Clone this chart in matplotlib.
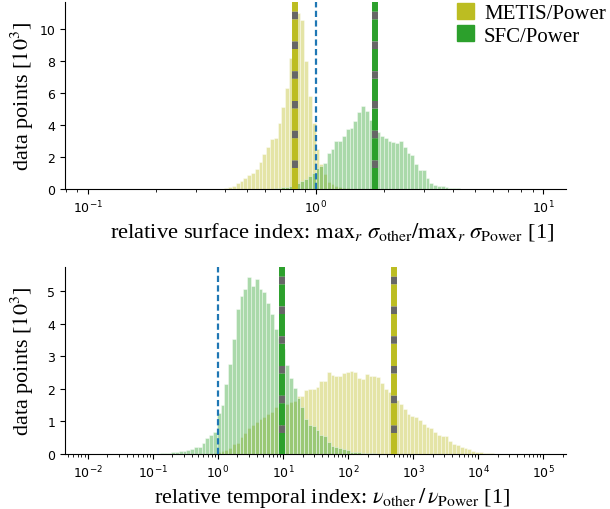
import numpy as np
import matplotlib
matplotlib.use("Agg")
import matplotlib.pyplot as plt
from matplotlib.patches import Patch

# ---------------- data (counts in thousands) ----------------
n_bins = 120
surf_decades = (-1, 1)      # log10 range of the surface-index bins
temp_decades = (-2, 5)      # log10 range of the temporal-index bins

labels = ["METIS/Power", "SFC/Power"]

# relative surface index histograms
surf_metis_first_bin = 35
surf_metis = [0.03, 0.05, 0.10, 0.17, 0.35, 0.50, 0.67, 0.90, 1.00, 1.25,
              1.70, 2.20, 2.60, 3.10, 3.20, 4.15, 5.10, 6.30, 8.20, 10.0,
              11.0, 10.6, 8.00, 5.80, 4.10, 2.50, 1.55, 0.94, 0.46, 0.31,
              0.17, 0.10, 0.08, 0.05, 0.03, 0.02]
surf_sfc_first_bin = 47
surf_sfc = [0.02, 0.03, 0.04, 0.05, 0.10, 0.15, 0.20, 0.28, 0.37, 0.50,
            0.63, 0.83, 1.00, 1.30, 1.46, 1.63, 2.23, 2.50, 3.02, 2.98,
            3.29, 3.75, 3.79, 4.25, 4.83, 5.21, 4.90, 4.31, 3.90, 3.55,
            3.33, 3.19, 3.02, 2.92, 2.88, 2.98, 2.60, 2.23, 2.15, 1.56,
            1.19, 1.19, 0.69, 0.35, 0.25, 0.20, 0.17, 0.10, 0.06, 0.08,
            0.06, 0.03, 0.02]
surf_medians = [0.815, 1.83]

# relative temporal index histograms
temp_metis_first_bin = 33
temp_metis = [0.02, 0.05, 0.08, 0.12, 0.17, 0.31, 0.34, 0.51, 0.63, 0.80,
              0.89, 0.97, 1.06, 1.15, 1.23, 1.30, 1.44, 1.47, 1.51, 1.55,
              1.59, 1.64, 1.77, 1.77, 1.95, 2.00, 2.00, 2.07, 2.25, 2.25,
              2.51, 2.41, 2.39, 2.39, 2.49, 2.53, 2.54, 2.51, 2.33, 2.29,
              2.47, 2.38, 2.38, 2.36, 2.18, 2.00, 1.90, 1.75, 1.67, 1.54,
              1.38, 1.23, 1.16, 1.13, 1.03, 0.92, 0.82, 0.79, 0.69, 0.58,
              0.56, 0.54, 0.41, 0.31, 0.28, 0.20, 0.17, 0.15, 0.09, 0.07,
              0.05, 0.04, 0.03, 0.02, 0.01]
temp_sfc_first_bin = 18
temp_sfc = [0.01, 0.02, 0.02, 0.03, 0.05, 0.06, 0.08, 0.10, 0.13, 0.16,
            0.22, 0.22, 0.34, 0.49, 0.58, 0.68, 1.26, 1.49, 2.15, 2.77,
            3.52, 4.46, 4.85, 5.06, 5.43, 5.16, 5.38, 5.08, 4.97, 4.62,
            4.29, 3.85, 3.55, 3.23, 2.74, 2.33, 2.02, 1.72, 1.44, 1.06,
            0.89, 0.87, 0.74, 0.58, 0.54, 0.38, 0.24, 0.20, 0.17, 0.15,
            0.13, 0.07, 0.07, 0.05, 0.04, 0.03, 0.02, 0.02, 0.01]
temp_medians = [500.0, 9.5]

surf_ylim = 11.7
temp_ylim = 5.74

# ---------------- styling ----------------
OLIVE = "#bcbd22"
GREEN = "#2ca02c"
BLUE = "#1f77b4"
GREY = "#666666"
colors = [OLIVE, GREEN]
SERIF = ["Liberation Serif", "DejaVu Serif"]

plt.rcParams["font.size"] = 9
plt.rcParams["xtick.labelsize"] = 9
plt.rcParams["ytick.labelsize"] = 9

fig = plt.figure(figsize=(6.1, 5.1), dpi=100)
ax1 = fig.add_axes([65 / 610, 1 - 190 / 510, 501 / 610, 187 / 510])
ax2 = fig.add_axes([65 / 610, 1 - 455 / 510, 501 / 610, 187 / 510])


def draw_panel(ax, decades, series, medians, ytop):
    edges = np.logspace(decades[0], decades[1], n_bins + 1)
    for first, heights, color in series:
        h = np.asarray(heights, dtype=float)
        left = edges[first:first + len(h)]
        width = edges[first + 1:first + len(h) + 1] - left
        ax.bar(left, h, width=width, align="edge", color=color, alpha=0.4,
               edgecolor="white", linewidth=0.7, zorder=2)
    for m, color in zip(medians, colors):
        ax.axvline(m, color=GREY, gapcolor=color, lw=4.3,
                   linestyle=(1.46, (1.26, 3.72)), zorder=3)
    ax.axvline(1.0, color=BLUE, lw=1.6, linestyle=(0, (2.8, 1.5)), zorder=3)
    ax.set_xscale("log")
    span = decades[1] - decades[0]
    ax.set_xlim(10 ** (decades[0] - 0.05 * span), 10 ** (decades[1] + 0.05 * span))
    ax.set_ylim(0, ytop)
    ax.spines["top"].set_visible(False)
    ax.spines["right"].set_visible(False)
    ax.set_ylabel(r"data points [$10^3$]", family=SERIF, fontsize=16,
                  math_fontfamily="stix")
    ax.yaxis.set_label_coords(-0.058, 0.5)


draw_panel(ax1, surf_decades,
           [(surf_metis_first_bin, surf_metis, OLIVE),
            (surf_sfc_first_bin, surf_sfc, GREEN)],
           surf_medians, surf_ylim)
ax1.set_yticks([0, 2, 4, 6, 8, 10])
ax1.set_xlabel(r"relative surface index: $\mathrm{max}_r\ \sigma_{\mathrm{other}}/\mathrm{max}_r\ \sigma_{\mathrm{Power}}$ [1]",
               family=SERIF, fontsize=16.2, math_fontfamily="stix")
ax1.xaxis.set_label_coords(0.534, -0.165)

draw_panel(ax2, temp_decades,
           [(temp_metis_first_bin, temp_metis, OLIVE),
            (temp_sfc_first_bin, temp_sfc, GREEN)],
           temp_medians, temp_ylim)
ax2.set_yticks([0, 1, 2, 3, 4, 5])
ax2.set_xlabel(r"relative temporal index: $\nu_{\mathrm{other}}\,/\,\nu_{\mathrm{Power}}$ [1]",
               family=SERIF, fontsize=16, math_fontfamily="stix")
ax2.xaxis.set_label_coords(0.534, -0.165)

handles = [Patch(color=c, label=l) for c, l in zip(colors, labels)]
fig.legend(handles=handles, loc="upper right", bbox_to_anchor=(1.0, 1.0),
           frameon=False, prop={"family": SERIF, "size": 15},
           handlelength=0.8, handleheight=0.8, handletextpad=0.5,
           borderaxespad=0.1, labelspacing=0.1, borderpad=0.1)

fig.savefig("out.png", dpi=100)
